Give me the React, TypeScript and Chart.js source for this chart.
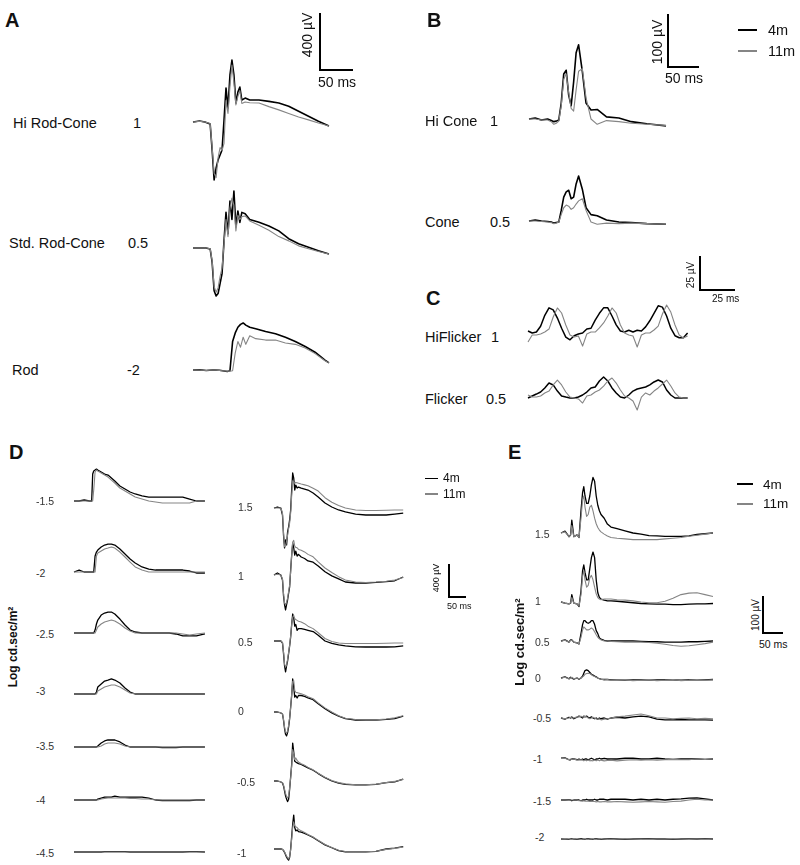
import React, { useEffect, useRef } from "react";
import { Chart, registerables } from "chart.js";
Chart.register(...registerables);

// ================= DATA (time in ms, amplitude in µV) =================
// Panel A
const tA = [0, 10, 18, 26, 29, 32, 35, 38, 41, 44, 47, 50, 53, 56, 59, 62, 65, 68, 71, 74, 79, 86, 100, 115, 130, 145, 160, 175, 190, 206];
const hiRodCone4m = [0, 7, 0, -14, -196, -406, -323, -267, -232, -196, 14, 239, 98, 330, 435, 330, 133, 210, 245, 154, 168, 154, 154, 145, 133, 110, 75, 40, 5, -28];
const hiRodCone11m = [0, 5, 0, -10, -180, -360, -390, -250, -180, -200, -150, 150, 60, 250, 400, 280, 120, 180, 220, 130, 140, 135, 133, 108, 85, 60, 35, 15, -7, -28];
const stdRodCone4m = [0, 0, 2, -7, -100, -300, -336, -320, -250, -180, 50, 250, 100, 330, 200, 400, 150, 260, 180, 250, 240, 200, 180, 155, 120, 65, 30, 5, -20, -42];
const stdRodCone11m = [0, 0, 2, -5, -90, -270, -310, -280, -200, -140, 30, 200, 80, 280, 350, 300, 120, 230, 200, 220, 225, 190, 160, 125, 80, 50, 15, -5, -25, -42];
const tRod = [0, 10, 20, 30, 40, 45, 52, 56, 60, 64, 68, 72, 76, 80, 86, 95, 110, 125, 140, 155, 170, 185, 200, 206];
const rod4m = [0, 2, -3, 0, -2, -5, -10, -5, 200, 260, 300, 320, 330, 315, 300, 290, 270, 255, 230, 200, 165, 125, 70, 50];
const rod11m = [0, 0, -3, 0, -3, -5, -8, -8, -5, 120, 200, 160, 230, 180, 240, 220, 210, 210, 190, 180, 155, 115, 65, 50];

// Panel B
const tB = [0, 10, 20, 30, 36, 40, 44, 48, 52, 56, 60, 64, 68, 72, 76, 80, 86, 92, 100, 110, 125, 145, 165, 190, 221];
const hiCone4m = [0, 2, -2, 0, -3, -5, -4, -2, 30, 85, 92, 45, 25, 70, 125, 140, 90, 30, 17, 18, 4, 2, -5, -9, -13];
const hiCone11m = [0, 0, -2, -2, -5, -10, -8, -4, 25, 75, 85, 50, 20, 15, 55, 90, 95, 40, 0, -10, -3, -5, -8, -10, -12];
const cone4m = [0, 2, 0, -1, -2, -4, -3, -2, 20, 45, 55, 58, 42, 45, 70, 85, 60, 25, 12, 10, 2, -2, -3, -5, -6];
const cone11m = [0, 0, -1, -2, -3, -5, -4, -2, 12, 25, 30, 28, 22, 25, 32, 38, 42, 20, -2, -6, -4, -5, -4, -5, -6];

// Panel C
const tC = [0, 3, 6, 9, 12, 15, 18, 21, 24, 27, 30, 33, 36, 39, 42, 45, 48, 51, 54, 57, 60, 63, 66, 69, 72, 75, 78, 81, 84, 87, 90, 93, 96, 99, 102, 105, 108, 111, 114];
const hiFlicker4m = [1.5, 0, 0.7, 5, 13, 18.5, 17, 11, 3.5, -3, -5, -2, -0.7, 0, 3, 3.5, 9.5, 14.5, 18.5, 18.5, 12.5, 6, 1.5, 0.7, 2, 0.7, 2, 1.5, 4.5, 9, 14.5, 20, 19, 12.5, 3.5, -2, -3.5, -3.5, 0];
const hiFlicker11m = [-6.6, -1.5, -1.5, -0.7, 0.7, 2.9, 11.8, 18.4, 14.7, 5.9, -1.5, -2.9, -2.2, -9.6, -0.7, 0.7, 0.7, 3.7, 7.4, 12.5, 18.4, 14.7, 5.9, 0, -1.5, -2.2, -10.3, -1.5, 0, 0, 2.2, 5.1, 14, 20.6, 15.4, 5.9, -1.5, -3.7, -2.2];
const flicker4m = [0, 1.5, 2.9, 4.4, 7.4, 11, 9.6, 5.1, 1.5, 0.7, 0, 0, 0.7, 2.2, 4.4, 7.4, 8.1, 12.5, 15.4, 12.5, 7.4, 3.7, 0.7, 0, 2.2, 5.1, 6.6, 7.4, 8.1, 9.6, 11.8, 13.2, 11.8, 5.9, 2.2, 0, 0, 0, 0];
const flicker11m = [2.2, 0.7, 0.7, 1.5, 3.7, 5.1, 9.6, 13.2, 9.6, 4.4, 0.7, 0, -0.7, -3.7, 1.5, 2.2, 4.4, 5.9, 8.8, 12.5, 14.7, 11, 5.9, 1.5, 0, -2.2, -8.8, 0.7, 3.7, 2.2, 5.1, 7.4, 10.3, 13.2, 8.8, 3.7, 0.7, 0, 0];

// Panel D, scotopic series (left column)
const tDL = [0, 15, 30, 45, 52, 55, 58, 62, 66, 70, 80, 90, 100, 110, 120, 135, 150, 165, 180, 200, 220, 240, 260, 280, 300, 320, 340, 360, 385];
const dM15_4m = [0, 0, 12, 0, 0, 327, 363, 375, 387, 375, 351, 327, 315, 278, 242, 182, 145, 109, 85, 61, 48, 48, 48, 48, 48, 48, 24, 0, 0];
const dM15_11m = [0, 0, 0, 0, 0, 0, 133, 351, 375, 363, 339, 315, 290, 254, 218, 157, 121, 85, 48, 24, 0, -12, -24, -24, -24, -24, -24, 0, 0];
const dM20_4m = [0, 24, 0, 0, 0, 0, 0, 194, 242, 266, 303, 327, 339, 339, 327, 278, 218, 157, 109, 61, 36, 24, 24, 24, 24, 24, 12, -12, -12];
const dM20_11m = [0, 0, 0, 0, 0, 0, 0, 0, 194, 230, 254, 278, 290, 303, 290, 242, 182, 121, 61, 24, 0, 0, 0, 0, 0, 0, 0, 0, 0];
const dM25_4m = [0, 0, 0, 0, 0, 0, 0, 36, 109, 157, 218, 242, 254, 254, 230, 169, 97, 36, 12, 0, 0, 0, 0, 0, -12, -36, -36, -36, -12];
const dM25_11m = [0, 0, 0, 0, 0, 0, 0, 0, 36, 73, 109, 133, 145, 157, 145, 109, 61, 24, 0, 0, 0, 0, 0, 0, 0, -12, -24, -12, 0];
const dM30_4m = [0, 0, 0, 0, 0, 0, 0, 0, 24, 85, 121, 157, 169, 182, 169, 133, 73, 24, 0, 0, 0, 0, 0, 0, 0, 0, 0, 0, 0];
const dM30_11m = [0, 0, 0, 0, 0, 0, 0, 0, 0, 36, 61, 85, 97, 109, 109, 85, 48, 12, 0, 0, 0, 0, 0, 0, 0, 0, 0, 0, 0];
const dM35_4m = [0, 0, 0, 0, 0, 0, 0, 0, 0, 12, 48, 73, 85, 85, 85, 61, 24, 0, 0, 0, 0, 0, -6, -6, -6, 0, 0, 0, 0];
const dM35_11m = [0, 0, 0, 0, 0, 0, 0, 0, 0, 0, 12, 36, 48, 48, 48, 36, 12, 0, 0, 0, 0, 0, 0, 0, 0, 0, 0, 0, 0];
const dM40_4m = [0, 0, 0, 0, 0, 0, 0, 0, 0, 12, 24, 36, 36, 36, 48, 36, 36, 36, 36, 36, 24, 0, -6, -6, -6, -6, -6, 0, 0];
const dM40_11m = [0, 0, 0, 0, 0, 0, 0, 0, 0, 0, 12, 18, 24, 24, 24, 24, 24, 18, 18, 12, 12, 0, 0, 0, 0, 0, 0, 0, 0];
const dM45_4m = [0, 0, 0, 0, 0, 0, 0, 0, 0, 0, 0, 5, 5, 5, 5, 5, 5, 0, 0, 0, 0, 0, 0, 0, 0, 0, 5, 5, 0];
const dM45_11m = [0, 0, 0, 0, 0, 0, 0, 0, 0, 0, 0, 0, 0, 0, 0, 0, 0, 0, 0, 0, 0, 0, 0, 0, 0, 0, 0, 0, 0];

// Panel D, mixed series (right column)
const tDR = [0, 10, 20, 25, 28, 31, 34, 37, 40, 43, 46, 49, 52, 55, 58, 61, 64, 68, 72, 80, 90, 100, 115, 130, 150, 170, 190, 210, 240, 270, 300, 330, 355, 380];
const dP15_4m = [0, 12, 0, -85, -327, -484, -387, -448, -290, -230, -145, -24, 218, 424, 363, 218, 278, 242, 254, 242, 230, 218, 182, 133, 61, 12, -24, -48, -73, -85, -85, -85, -73, -61];
const dP15_11m = [0, 0, 0, -60, -300, -470, -460, -400, -330, -250, -180, -60, 150, 330, 310, 300, 310, 305, 300, 290, 280, 270, 240, 205, 125, 70, 30, 0, -25, -30, -30, -28, -25, -24];
const dP10_4m = [0, 24, 0, -60, -250, -360, -424, -360, -300, -220, -145, 60, 240, 385, 330, 240, 290, 230, 250, 218, 200, 170, 155, 110, 40, -10, -48, -85, -97, -97, -90, -80, -70, -24];
const dP10_11m = [0, 10, 0, -50, -220, -340, -360, -330, -280, -200, -120, 40, 250, 400, 420, 350, 335, 330, 310, 300, 280, 250, 220, 160, 85, 30, -20, -60, -85, -90, -85, -75, -60, -30];
const dP05_4m = [0, 0, 0, -24, -150, -300, -375, -300, -240, -150, -60, 50, 200, 327, 280, 180, 200, 130, 150, 150, 140, 130, 115, 70, 0, -30, -48, -60, -70, -73, -73, -73, -70, -60];
const dP05_11m = [0, 0, 0, -20, -130, -280, -315, -290, -220, -140, -50, 60, 200, 290, 310, 270, 260, 250, 240, 230, 210, 180, 150, 100, 30, -5, -25, -30, -30, -30, -30, -28, -25, -25];
const dP00_4m = [0, 0, -12, -24, -100, -200, -270, -290, -250, -180, -80, 60, 200, 400, 300, 180, 200, 170, 200, 200, 190, 170, 150, 100, 40, -10, -50, -80, -97, -97, -97, -90, -80, -50];
const dP00_11m = [0, 0, -10, -20, -90, -180, -240, -255, -230, -160, -70, 50, 220, 370, 380, 260, 240, 235, 230, 220, 205, 185, 160, 110, 50, 0, -45, -75, -90, -95, -95, -85, -70, -45];
const dN05_4m = [0, 0, -12, -24, -60, -120, -180, -220, -250, -220, -100, 50, 200, 460, 350, 240, 230, 220, 210, 200, 180, 160, 130, 90, 40, 0, -25, -40, -48, -48, -40, -20, -10, 24];
const dN05_11m = [0, 0, -10, -20, -50, -100, -150, -190, -205, -180, -80, 40, 180, 380, 330, 260, 280, 250, 230, 210, 190, 165, 135, 95, 45, 5, -20, -35, -45, -45, -38, -20, -5, 20];
const dN10_4m = [0, 0, 0, -5, -20, -40, -70, -100, -120, -135, -100, 0, 150, 300, 410, 260, 220, 230, 210, 205, 190, 170, 140, 100, 50, 15, -20, -35, -36, -36, -30, 0, 10, 30];
const dN10_11m = [0, 0, 0, -5, -15, -35, -60, -85, -105, -120, -90, -10, 120, 260, 330, 280, 270, 260, 240, 220, 200, 175, 145, 105, 55, 18, -15, -30, -33, -33, -28, -5, 8, 25];

// Panel E, photopic series
const tE = [0, 10, 20, 24, 27, 32, 40, 45, 50, 54, 57, 60, 64, 68, 72, 76, 80, 84, 88, 92, 96, 100, 108, 116, 125, 140, 160, 180, 200, 220, 240, 260, 280, 300, 320, 340, 360, 380];
const eP15_4m = [0, 5, -10, -5, 35, -10, -5, -12, 60, 110, 125, 100, 80, 80, 100, 130, 150, 140, 100, 75, 60, 50, 40, 24, 16, 12, 6, 0, -3, -7, -8, -9, -9, -9, -8, -4, -2, 0];
const eP15_11m = [0, 3, -10, -5, 20, -10, -5, -12, 40, 90, 100, 70, 45, 50, 70, 75, 60, 40, 25, 15, 8, 3, -3, -8, -12, -14, -16, -18, -18, -18, -18, -16, -14, -12, -9, -6, -3, 0];
const eP10_4m = [0, -3, -5, -3, 20, -3, -5, -12, 30, 85, 100, 80, 60, 60, 90, 120, 135, 120, 60, 25, 12, 8, 5, 3, 3, 2, 0, -2, -4, -5, -6, -6, -7, -7, -6, -5, -5, -4];
const eP10_11m = [0, -3, -5, -3, 12, -3, -5, -10, 20, 70, 85, 60, 40, 45, 65, 72, 60, 40, 22, 12, 8, 6, 8, 8, 8, 6, 5, 3, 0, -2, -2, 2, 10, 20, 24, 25, 20, 15];
const eP05_4m = [0, 3, -3, 3, 3, -3, -5, -8, 20, 45, 55, 55, 50, 48, 50, 55, 55, 45, 28, 20, 8, 5, 2, 0, 0, 0, 0, 0, -1, -2, -2, -3, -3, -3, -2, -2, -1, 0];
const eP05_11m = [0, 2, -3, 2, 2, -3, -5, -8, 10, 30, 38, 35, 30, 30, 32, 35, 32, 25, 17, 10, 6, 3, 0, 0, -1, -2, -3, -3, -3, -4, -6, -9, -12, -14, -13, -10, -7, -3];
const eP00_4m = [0, 3, -2, 2, 0, -3, 0, -3, 0, 5, 13, 20, 22, 20, 15, 10, 8, 5, 3, 0, -2, -3, -4, -4, -5, -5, -6, -5, -5, -6, -5, -5, -5, -6, -5, -5, -5, -4];
const eP00_11m = [0, 2, -3, 0, 2, -2, 0, -2, 0, 3, 6, 10, 12, 13, 12, 9, 6, 4, 2, 0, -2, -3, -5, -4, -6, -5, -5, -7, -6, -5, -7, -6, -4, -7, -6, -4, -6, -5];
const eN05_4m = [0, -3, 2, 0, 3, -2, 2, 5, 3, 0, 5, 3, 5, 2, 0, 3, 0, -2, 0, -3, 0, -2, 0, -3, 0, 2, 0, 3, 5, 3, -3, -5, -5, -4, -5, -5, -5, -6];
const eN05_11m = [0, -2, 0, 2, 0, 0, 3, 3, 5, 3, 3, 5, 3, 0, -2, 0, 2, 0, -3, -2, -3, -5, -3, -2, 0, 3, 5, 8, 11, 6, 0, 0, -2, -1, 0, -2, -1, -2];
const eN10_4m = [3, 3, -2, -2, 0, 0, -2, 0, -2, 0, -2, 0, 0, -2, 0, 2, 0, -2, 0, 0, 2, 0, 2, 0, 0, 0, 2, 2, 0, 0, 2, 0, -1, 0, 0, 0, -1, 0];
const eN10_11m = [3, 2, -2, 0, -1, 0, -3, -3, -2, -3, -5, -3, -5, -3, -5, -4, -5, -3, -5, -3, -5, -3, -5, -4, -3, -5, -3, -2, -3, -2, -3, -2, -1, -2, -2, 0, -1, 0];
const eN15_4m = [0, 0, 0, 0, -2, 0, 0, 0, -2, 0, 0, 0, 2, 0, 0, 0, 0, 2, 0, 0, 2, 2, 2, 0, 2, 2, 2, 0, 2, 0, 2, 0, 2, 3, 5, 6, 3, 0];
const eN15_11m = [0, 0, -1, 0, 0, 0, 0, -2, -2, -3, -2, -3, -3, -3, -4, -3, -4, -4, -5, -4, -5, -5, -4, -5, -5, -4, -5, -6, -5, -4, -5, -6, -4, -3, 0, 2, 0, 0];
const eN20_4m = [0, 0, -1, 0, 1, 0, -1, 0, 1, 0, 0, -1, 0, 1, 0, 0, -1, 0, 1, 0, 0, -1, 0, 0, 1, 0, -1, 0, 0, 1, 0, 0, -1, 0, 0, 0, 1, 0];
const eN20_11m = [0, 1, 0, -1, 0, 1, 0, 0, -1, 0, 1, 0, -1, 0, 0, 1, 0, -1, 0, 0, 1, 0, 0, -1, 0, 0, 1, 0, -1, 0, 0, 0, 1, 0, -1, 0, 0, 0];

// ================= LAYOUT / STYLE =================
const FONT = "Arial, 'Liberation Sans', Helvetica, sans-serif";
const BLACK = "#000000";
const GRAY = "#858585";

// px per ms (kx) and px per µV (ky) in each panel
const SCALE: Record<string, { kx: number; ky: number }> = {
  A: { kx: 33 / 50, ky: 57 / 400 },
  B: { kx: 31 / 50, ky: 53 / 100 },
  C: { kx: 35 / 25, ky: 34 / 25 },
  D: { kx: 17 / 50, ky: 33 / 400 },
  E: { kx: 20 / 50, ky: 37 / 100 },
};

type TraceCfg = { p: string; x0: number; y0: number; t: number[]; k: number[]; g: number[]; bw?: number };
const TRACES: TraceCfg[] = [
  { p: "A", x0: 193, y0: 122, t: tA, k: hiRodCone4m, g: hiRodCone11m, bw: 1.6 },
  { p: "A", x0: 193, y0: 248, t: tA, k: stdRodCone4m, g: stdRodCone11m, bw: 1.6 },
  { p: "A", x0: 193, y0: 370, t: tRod, k: rod4m, g: rod11m, bw: 1.6 },
  { p: "B", x0: 529, y0: 119, t: tB, k: hiCone4m, g: hiCone11m, bw: 1.6 },
  { p: "B", x0: 529, y0: 221, t: tB, k: cone4m, g: cone11m, bw: 1.6 },
  { p: "C", x0: 528, y0: 333, t: tC, k: hiFlicker4m, g: hiFlicker11m, bw: 1.5 },
  { p: "C", x0: 528, y0: 398, t: tC, k: flicker4m, g: flicker11m, bw: 1.5 },
  { p: "D", x0: 74, y0: 501, t: tDL, k: dM15_4m, g: dM15_11m },
  { p: "D", x0: 74, y0: 572, t: tDL, k: dM20_4m, g: dM20_11m },
  { p: "D", x0: 74, y0: 633, t: tDL, k: dM25_4m, g: dM25_11m },
  { p: "D", x0: 74, y0: 694, t: tDL, k: dM30_4m, g: dM30_11m },
  { p: "D", x0: 74, y0: 747, t: tDL, k: dM35_4m, g: dM35_11m },
  { p: "D", x0: 74, y0: 800, t: tDL, k: dM40_4m, g: dM40_11m },
  { p: "D", x0: 74, y0: 852, t: tDL, k: dM45_4m, g: dM45_11m },
  { p: "D", x0: 274, y0: 508, t: tDR, k: dP15_4m, g: dP15_11m },
  { p: "D", x0: 274, y0: 575, t: tDR, k: dP10_4m, g: dP10_11m },
  { p: "D", x0: 274, y0: 641, t: tDR, k: dP05_4m, g: dP05_11m },
  { p: "D", x0: 274, y0: 712, t: tDR, k: dP00_4m, g: dP00_11m },
  { p: "D", x0: 274, y0: 781, t: tDR, k: dN05_4m, g: dN05_11m },
  { p: "D", x0: 274, y0: 849, t: tDR, k: dN10_4m, g: dN10_11m },
  { p: "E", x0: 561, y0: 533, t: tE, k: eP15_4m, g: eP15_11m },
  { p: "E", x0: 561, y0: 602, t: tE, k: eP10_4m, g: eP10_11m },
  { p: "E", x0: 561, y0: 641, t: tE, k: eP05_4m, g: eP05_11m },
  { p: "E", x0: 561, y0: 678, t: tE, k: eP00_4m, g: eP00_11m },
  { p: "E", x0: 561, y0: 718, t: tE, k: eN05_4m, g: eN05_11m },
  { p: "E", x0: 561, y0: 759, t: tE, k: eN10_4m, g: eN10_11m },
  { p: "E", x0: 561, y0: 800, t: tE, k: eN15_4m, g: eN15_11m },
  { p: "E", x0: 561, y0: 839, t: tE, k: eN20_4m, g: eN20_11m },
];

type TextCfg = { t: string; x: number; y: number; s: number; b?: boolean; rot?: boolean; c?: string };
const TEXTS: TextCfg[] = [
  // A
  { t: "A", x: 5, y: 19.5, s: 20, b: true },
  { t: "400 µV", x: 307, y: 35, s: 14, rot: true },
  { t: "50 ms", x: 318, y: 82, s: 14 },
  { t: "Hi Rod-Cone", x: 13, y: 122.5, s: 14.5 },
  { t: "1", x: 133, y: 122.5, s: 14.5 },
  { t: "Std. Rod-Cone", x: 9, y: 242.5, s: 14.5 },
  { t: "0.5", x: 128, y: 242.5, s: 14.5 },
  { t: "Rod", x: 12, y: 369.5, s: 14.5 },
  { t: "-2", x: 127, y: 369.5, s: 14.5 },
  // B
  { t: "B", x: 427, y: 19.5, s: 20, b: true },
  { t: "100 µV", x: 656.5, y: 42, s: 14, rot: true },
  { t: "50 ms", x: 665, y: 77.5, s: 14 },
  { t: "4m", x: 768, y: 30, s: 14.5 },
  { t: "11m", x: 768, y: 51, s: 14.5 },
  { t: "Hi Cone", x: 425, y: 120.5, s: 14.5 },
  { t: "1", x: 490, y: 120.5, s: 14.5 },
  { t: "Cone", x: 425, y: 222, s: 14.5 },
  { t: "0.5", x: 490, y: 222, s: 14.5 },
  // C
  { t: "C", x: 426, y: 297.5, s: 20, b: true },
  { t: "25 µV", x: 691, y: 275, s: 10, rot: true },
  { t: "25 ms", x: 712, y: 299, s: 10 },
  { t: "HiFlicker", x: 425, y: 336.5, s: 14.5 },
  { t: "1", x: 491, y: 336.5, s: 14.5 },
  { t: "Flicker", x: 425, y: 398.5, s: 14.5 },
  { t: "0.5", x: 486, y: 398.5, s: 14.5 },
  // D
  { t: "D", x: 9, y: 451.5, s: 20, b: true },
  { t: "Log cd.sec/m²", x: 12.5, y: 647, s: 12, b: true, rot: true },
  { t: "-1.5", x: 36, y: 500.5, s: 10.5, c: "#333" },
  { t: "-2", x: 36, y: 573, s: 10.5, c: "#333" },
  { t: "-2.5", x: 36, y: 634, s: 10.5, c: "#333" },
  { t: "-3", x: 36, y: 691, s: 10.5, c: "#333" },
  { t: "-3.5", x: 36, y: 746, s: 10.5, c: "#333" },
  { t: "-4", x: 36, y: 800, s: 10.5, c: "#333" },
  { t: "-4.5", x: 36, y: 853, s: 10.5, c: "#333" },
  { t: "1.5", x: 238, y: 506.7, s: 10.5, c: "#333" },
  { t: "1", x: 238, y: 575.5, s: 10.5, c: "#333" },
  { t: "0.5", x: 238, y: 642, s: 10.5, c: "#333" },
  { t: "0", x: 238, y: 711, s: 10.5, c: "#333" },
  { t: "-0.5", x: 237, y: 781.7, s: 10.5, c: "#333" },
  { t: "-1", x: 237, y: 853.3, s: 10.5, c: "#333" },
  { t: "4m", x: 443, y: 478, s: 12 },
  { t: "11m", x: 443, y: 494, s: 12 },
  { t: "400 µV", x: 436, y: 578, s: 9, rot: true },
  { t: "50 ms", x: 447, y: 606, s: 9 },
  // E
  { t: "E", x: 508, y: 451.5, s: 20, b: true },
  { t: "Log cd.sec/m²", x: 519, y: 642, s: 13, b: true, rot: true },
  { t: "1.5", x: 535, y: 534, s: 10.5, c: "#333" },
  { t: "1", x: 535, y: 601, s: 10.5, c: "#333" },
  { t: "0.5", x: 535, y: 642, s: 10.5, c: "#333" },
  { t: "0", x: 535, y: 677.5, s: 10.5, c: "#333" },
  { t: "-0.5", x: 533, y: 718.3, s: 10.5, c: "#333" },
  { t: "-1", x: 533, y: 759, s: 10.5, c: "#333" },
  { t: "-1.5", x: 533, y: 800.7, s: 10.5, c: "#333" },
  { t: "-2", x: 535, y: 836.7, s: 10.5, c: "#333" },
  { t: "4m", x: 763, y: 484.5, s: 13.5 },
  { t: "11m", x: 763, y: 504, s: 13.5 },
  { t: "100 µV", x: 755.5, y: 615, s: 10, rot: true },
  { t: "50 ms", x: 759, y: 643.5, s: 10.5 },
];

// scale bars: corner point, amplitude (µV) and duration (ms) shown
const BARS = [
  { p: "A", x: 320, y: 70, uv: 400, ms: 50, w: 2 },
  { p: "B", x: 668, y: 66.5, uv: 100, ms: 50, w: 2 },
  { p: "C", x: 700, y: 290, uv: 25, ms: 25, w: 1.5 },
  { p: "D", x: 449, y: 597, uv: 400, ms: 50, w: 1.3 },
  { p: "E", x: 763, y: 633, uv: 100, ms: 50, w: 1.5 },
];

const LEGEND_LINES = [
  { x1: 738, x2: 757, y: 30, c: BLACK, w: 2 },
  { x1: 738, x2: 757, y: 51, c: GRAY, w: 1.5 },
  { x1: 425, x2: 438, y: 478.3, c: BLACK, w: 1.6 },
  { x1: 425, x2: 438, y: 494, c: GRAY, w: 1.2 },
  { x1: 737, x2: 753, y: 484, c: BLACK, w: 2 },
  { x1: 737, x2: 753, y: 504, c: GRAY, w: 1.5 },
];

// ================= COMPONENTS =================
function Trace({ cfg }: { cfg: TraceCfg }) {
  const ref = useRef<HTMLCanvasElement | null>(null);
  const { kx, ky } = SCALE[cfg.p];
  const pad = 4;
  const all = cfg.k.concat(cfg.g);
  const vmax = Math.max(0, ...all);
  const vmin = Math.min(0, ...all);
  const tEnd = cfg.t[cfg.t.length - 1];
  const upPx = Math.ceil(vmax * ky) + pad;
  const downPx = Math.ceil(-vmin * ky) + pad;
  const wPx = Math.ceil(tEnd * kx) + 2 * pad;
  const hPx = upPx + downPx;
  const left = cfg.x0 - pad;
  const top = cfg.y0 - upPx;

  useEffect(() => {
    if (!ref.current) return;
    const chart = new Chart(ref.current, {
      type: "line",
      data: {
        datasets: [
          {
            data: cfg.t.map((t, i) => ({ x: t, y: cfg.g[i] })),
            borderColor: GRAY,
            borderWidth: 1.1,
            pointRadius: 0,
            tension: 0,
            borderJoinStyle: "round",
          },
          {
            data: cfg.t.map((t, i) => ({ x: t, y: cfg.k[i] })),
            borderColor: BLACK,
            borderWidth: cfg.bw ?? 1.3,
            pointRadius: 0,
            tension: 0,
            borderJoinStyle: "round",
          },
        ],
      },
      options: {
        animation: false,
        responsive: false,
        devicePixelRatio: 1,
        events: [],
        layout: { padding: 0 },
        plugins: { legend: { display: false }, tooltip: { enabled: false }, title: { display: false } },
        scales: {
          x: { type: "linear", display: false, min: -pad / kx, max: (wPx - pad) / kx },
          y: { type: "linear", display: false, min: -downPx / ky, max: upPx / ky },
        },
      },
    });
    return () => chart.destroy();
  }, []);

  return (
    <canvas
      ref={ref}
      width={wPx}
      height={hPx}
      style={{ position: "absolute", left, top, width: wPx, height: hPx }}
    />
  );
}

function Text({ cfg }: { cfg: TextCfg }) {
  const base: React.CSSProperties = {
    position: "absolute",
    fontFamily: FONT,
    fontSize: cfg.s,
    fontWeight: cfg.b ? "bold" : "normal",
    color: cfg.c ?? "#111",
    lineHeight: 1,
    whiteSpace: "nowrap",
  };
  if (cfg.rot) {
    return (
      <div style={{ ...base, left: cfg.x, top: cfg.y, transform: "translate(-50%, -50%) rotate(-90deg)" }}>{cfg.t}</div>
    );
  }
  return <div style={{ ...base, left: cfg.x, top: cfg.y, transform: "translateY(-50%)" }}>{cfg.t}</div>;
}

function Bar({ b }: { b: (typeof BARS)[number] }) {
  const { kx, ky } = SCALE[b.p];
  const h = b.uv * ky;
  const w = b.ms * kx;
  return (
    <>
      <div style={{ position: "absolute", left: b.x - b.w / 2, top: b.y - h, width: b.w, height: h + b.w / 2, background: BLACK }} />
      <div style={{ position: "absolute", left: b.x - b.w / 2, top: b.y - b.w / 2, width: w + b.w / 2, height: b.w, background: BLACK }} />
    </>
  );
}

export default function App() {
  return (
    <div style={{ position: "absolute", left: 0, top: 0, width: 800, height: 865, background: "#fff", overflow: "hidden" }}>
      {TRACES.map((c, i) => (
        <Trace key={i} cfg={c} />
      ))}
      {BARS.map((b, i) => (
        <Bar key={i} b={b} />
      ))}
      {LEGEND_LINES.map((l, i) => (
        <div key={i} style={{ position: "absolute", left: l.x1, top: l.y - l.w / 2, width: l.x2 - l.x1, height: l.w, background: l.c }} />
      ))}
      {TEXTS.map((t, i) => (
        <Text key={i} cfg={t} />
      ))}
    </div>
  );
}
